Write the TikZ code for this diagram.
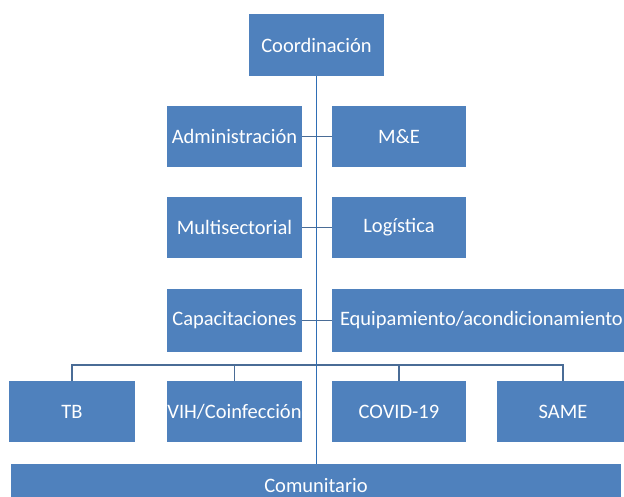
\documentclass[tikz,border=0pt]{standalone}
\usepackage{fontspec}
\setmainfont{Carlito}
\definecolor{boxblue}{HTML}{4F81BD}
\definecolor{mainline}{HTML}{2F6EB5}
\definecolor{subline}{HTML}{4A6C96}
\begin{document}
\begin{tikzpicture}[x=1pt,y=-1pt,
  orgbox/.style={fill=boxblue, draw=none, text=white, inner sep=0pt,
    font=\fontsize{20.5}{24}\selectfont},
  link/.style={draw=subline, line width=1.6pt},
  spine/.style={draw=mainline, line width=1.8pt}]
\useasboundingbox (0,0) rectangle (624,497);
\clip (0,0) rectangle (624,497);
% boxes
\node[orgbox, minimum width=135pt, minimum height=62pt] (coord) at (316.5,45) {Coordinación};
\node[orgbox, minimum width=135pt, minimum height=61pt] (admin) at (234.5,136.5) {Administración};
\node[orgbox, minimum width=134pt, minimum height=61pt] (me) at (399,136.5) {M\&E};
\node[orgbox, minimum width=135pt, minimum height=61pt] (multi) at (234.5,227.5) {Multisectorial};
\node[orgbox, minimum width=134pt, minimum height=61pt] (log) at (399,227.5) {Logística};
\node[orgbox, minimum width=135pt, minimum height=63pt] (cap) at (234.5,320.5) {Capacitaciones};
\node[orgbox, minimum width=308pt, minimum height=63pt, text width=300pt, align=left, inner xsep=0pt] (equip) at (486,320.5) {\hspace*{4pt}Equipamiento/acondicionamiento};
\node[orgbox, minimum width=126pt, minimum height=61pt] (tb) at (72,411.5) {TB};
\node[orgbox, minimum width=135pt, minimum height=61pt] (vih) at (234.5,411.5) {VIH/Coinfección};
\node[orgbox, minimum width=134pt, minimum height=61pt] (covid) at (399,411.5) {COVID-19};
\node[orgbox, minimum width=132pt, minimum height=61pt] (same) at (563,411.5) {SAME};
\node[orgbox, minimum width=610pt, minimum height=56pt] (comun) at (316,492) {};
\node[text=white, font=\fontsize{20.5}{24}\selectfont, inner sep=0pt] (comuntxt) at (316,486) {Comunitario};
% connectors
\coordinate (busl) at (72,365);
\coordinate (busr) at (563,365);
\draw[link] (admin.east) -- (me.west);
\draw[link] (multi.east) -- (log.west);
\draw[link] (cap.east) -- (equip.west);
\draw[link] (tb.north) |- (busl) -- (busr) -| (same.north);
\draw[link] (vih.north) -- (vih.north |- busl);
\draw[link] (covid.north) -- (covid.north |- busl);
\draw[spine] (coord.south) -- (coord.south |- comun.north);
\end{tikzpicture}
\end{document}
